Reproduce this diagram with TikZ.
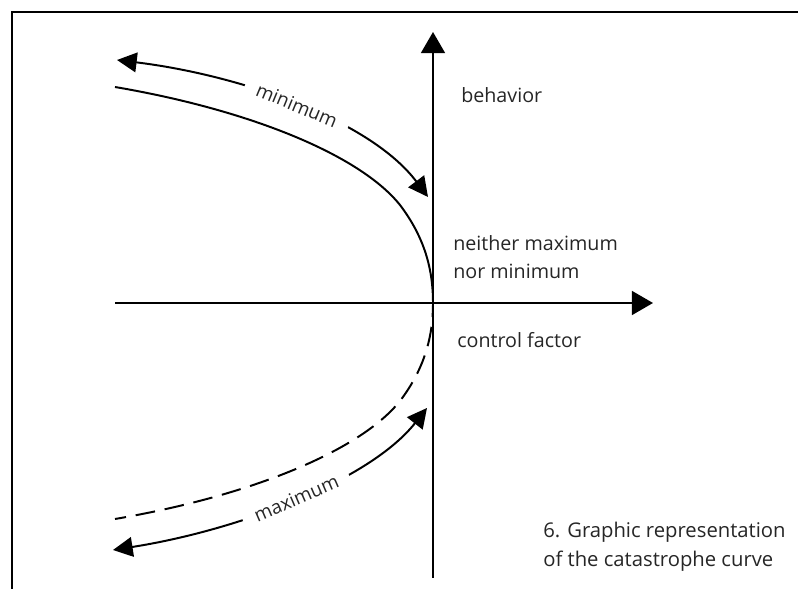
\documentclass[tikz,border=0pt]{standalone}
\usepackage{fontspec}
\setmainfont{Open Sans}
\usetikzlibrary{arrows.meta,positioning}

\begin{document}
\begin{tikzpicture}[
  x=0.025cm, y=-0.025cm,
  axis/.style={-{Triangle[length=15pt, width=17pt]}, line width=1.4pt},
  branch/.style={line width=1.4pt},
  turn/.style={{Triangle[length=14pt, width=14pt]}-{Triangle[length=14pt, width=14pt]}, line width=1.4pt},
  lbl/.style={font=\fontsize{14}{19.5}\selectfont, text=black!85, anchor=west, inner sep=0pt, align=left},
  tag/.style={font=\fontsize{13.5}{16}\selectfont, text=black!85, sloped, fill=white, inner xsep=9pt, inner ysep=1pt}
]
\useasboundingbox (0,0) rectangle (798,589);
\draw[line width=2pt] (12,589) -- (12,12) -- (798,12);

% axes
\coordinate (origin) at (433,303);
\coordinate (ybottom) at (433,578);
\coordinate (ytop) at (433,32);
\coordinate (xleft) at (115,303);
\coordinate (xright) at (653,303);
\draw[axis] (ybottom) -- (ytop);
\draw[axis] (xleft) -- (xright);

% catastrophe curve
\coordinate (upend) at (115,87);
\coordinate (upbend) at (400,205);
\coordinate (lowbend) at (400,401);
\coordinate (lowend) at (115,519);
\draw[branch] (upend) .. controls (250,110) and (360,155) .. (upbend)
  .. controls (425,238) and (433,270) .. (origin);
\draw[branch, dash pattern=on 14pt off 7pt, dash phase=4pt] (origin) .. controls (433,336) and (425,368) .. (lowbend)
  .. controls (360,451) and (250,496) .. (lowend);

% turning arrows
\coordinate (minleft) at (117,60);
\coordinate (minright) at (428,197);
\coordinate (maxleft) at (113,550);
\coordinate (maxright) at (427,408);
\draw[turn] (minleft) .. controls (240,75) and (370,120) .. node[tag] {minimum} (minright);
\draw[turn] (maxleft) .. controls (240,530) and (370,480) .. node[tag] {maximum} (maxright);

% labels
\node[lbl] (behavior) at (461,95) {behavior};
\node[lbl] (neither) at (453,257) {neither maximum\\nor minimum};
\node[lbl] (control) at (457,340) {control factor};
\node[lbl, font=\fontsize{14.4}{20.5}\selectfont] (caption) at (543,547) {6. Graphic representation\\of the catastrophe curve};
\end{tikzpicture}
\end{document}
